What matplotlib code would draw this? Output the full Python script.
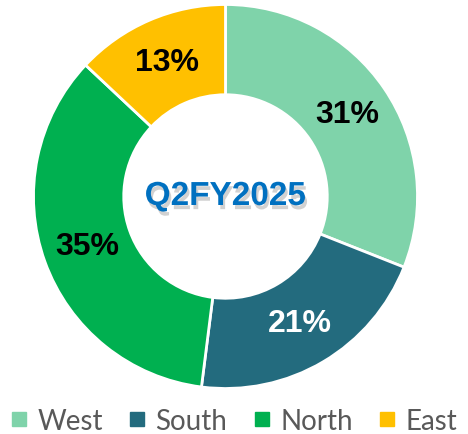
import matplotlib.pyplot as plt
import matplotlib.patheffects as pe
from matplotlib.lines import Line2D

regions = ['West', 'South', 'North', 'East']
shares = [31, 21, 35, 13]
colors = ['#7fd3aa', '#236b7e', '#00b050', '#ffc000']
label_colors = ['black', 'white', 'black', 'black']
center_text = 'Q2FY2025'

fig = plt.figure(figsize=(4.68, 4.35), dpi=100)
ax = fig.add_axes([33.5 / 468, 1 - 389.5 / 435, 384 / 468, 384 / 435])

wedges, texts = ax.pie(shares, colors=colors, startangle=90, counterclock=False,
                       radius=1, wedgeprops=dict(width=0.47, edgecolor='white', linewidth=2),
                       labels=[f'{s}%' for s in shares], labeldistance=0.765,
                       textprops=dict(fontsize=23, fontweight='bold', family='Liberation Sans'))
for t, c in zip(texts, label_colors):
    t.set_color(c)
    t.set_ha('center')
    t.set_va('center')

ax.text(0, 0, center_text, ha='center', va='center', fontsize=24, fontweight='bold',
        family='Liberation Sans', color='#0070c0',
        path_effects=[pe.SimplePatchShadow(offset=(1.5, -3), shadow_rgbFace='#999999', alpha=0.45),
                      pe.Normal()])
ax.set_xlim(-1, 1)
ax.set_ylim(-1, 1)
ax.axis('off')

handles = [Line2D([], [], marker='s', linestyle='none', markersize=10,
                  markerfacecolor=c, markeredgecolor=c) for c in colors]
fig.legend(handles, regions, loc='center', bbox_to_anchor=(0.5, 1 - 422 / 435), ncol=4,
           frameon=False, handlelength=0.6, handletextpad=0.35, columnspacing=0.95,
           prop=dict(family='Lato', size=20), labelcolor='#595959')

fig.savefig('out.png', dpi=100)
